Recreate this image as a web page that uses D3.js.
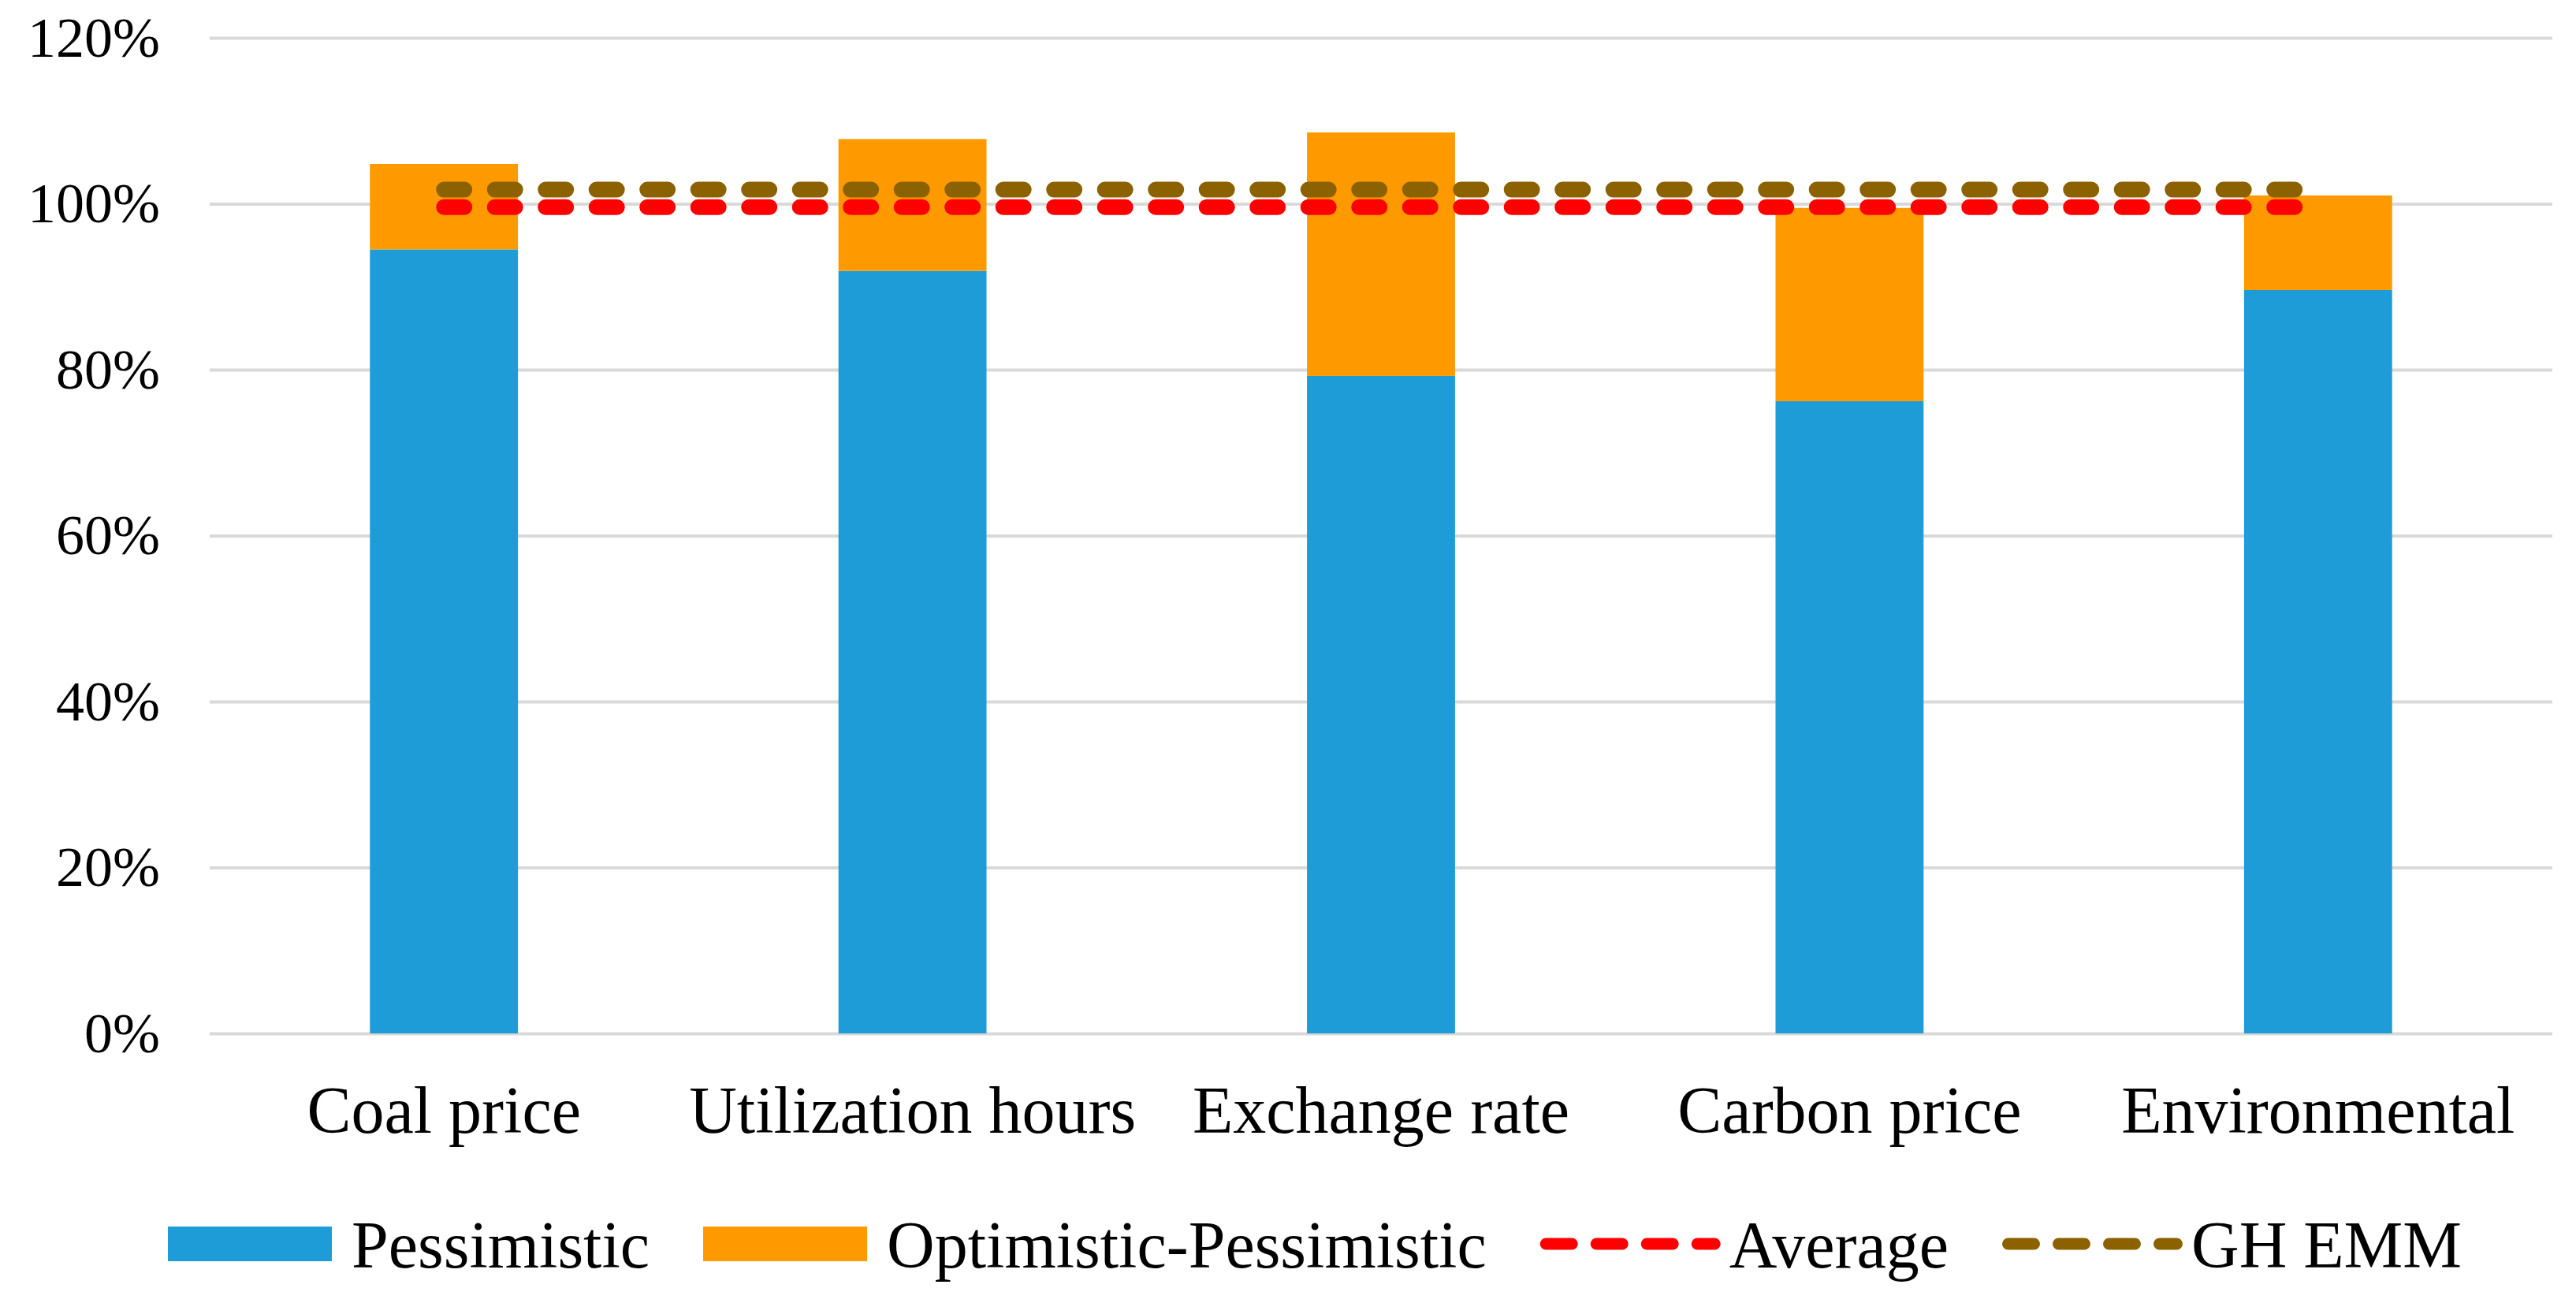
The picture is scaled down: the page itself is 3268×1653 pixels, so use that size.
<!DOCTYPE html>
<html>
<head>
<meta charset="utf-8">
<script src="https://cdn.jsdelivr.net/npm/d3@7"></script>
<style>
	body { margin: 0; background: #fff; }
	text { font-family: "Liberation Serif", "Times New Roman", serif; fill: #000; }
</style>
</head>
<body>
<svg id="chart" width="3268" height="1653"></svg>
<script>
// values
const categories = ["Coal price", "Utilization hours", "Exchange rate", "Carbon price", "Environmental"];
const pessimistic = [0.945, 0.919, 0.7925, 0.762, 0.896];
const optimisticMinusPessimistic = [0.103, 0.159, 0.2935, 0.233, 0.114];
const average = [0.996, 0.996, 0.996, 0.996, 0.996];
const ghEmm = [1.017, 1.017, 1.017, 1.017, 1.017];
const yTicks = [0, 0.2, 0.4, 0.6, 0.8, 1.0, 1.2];

const colors = {
	pess: "#1E9CD8",
	opt: "#FE9900",
	avg: "#FF0000",
	gh: "#8C6200",
	grid: "#D9D9D9",
};

const svg = d3.select("#chart");
const margin = { left: 266, right: 30, top: 48, bottom: 342 };
const W = +svg.attr("width");
const H = +svg.attr("height");
const plotW = W - margin.left - margin.right;
const plotH = H - margin.top - margin.bottom;

const g = svg.append("g").attr("transform", `translate(${margin.left},${margin.top})`);

const x = d3.scaleBand().domain(categories).range([0, plotW]).padding(0);
const y = d3.scaleLinear().domain([0, 1.2]).range([plotH, 0]);
const barW = x.step() * 0.316;

// gridlines + y labels
const yAxis = d3.axisLeft(y)
	.tickValues(yTicks)
	.tickFormat(d3.format(".0%"))
	.tickSize(-plotW)
	.tickPadding(63);
const gy = g.append("g").call(yAxis);
gy.select(".domain").remove();
gy.selectAll(".tick line").attr("stroke", colors.grid).attr("stroke-width", 4);
gy.selectAll(".tick text")
	.attr("font-size", 72)
	.attr("dy", 23)
	.attr("font-family", "Liberation Serif");

// stacked bars
const stackData = categories.map((c, i) => ({ cat: c, pess: pessimistic[i], opt: optimisticMinusPessimistic[i] }));
const series = d3.stack().keys(["pess", "opt"])(stackData);

g.append("g").selectAll("g")
	.data(series)
	.join("g")
	.attr("fill", d => colors[d.key])
	.selectAll("rect")
	.data(d => d)
	.join("rect")
	.attr("x", d => x(d.data.cat) + (x.step() - barW) / 2)
	.attr("width", barW)
	.attr("y", d => y(d[1]))
	.attr("height", d => y(d[0]) - y(d[1]));

// dashed lines
const line = d3.line()
	.x((d, i) => x(categories[i]) + x.step() / 2)
	.y(d => y(d));

[[average, colors.avg], [ghEmm, colors.gh]].forEach(([vals, col]) => {
	g.append("path")
		.datum(vals)
		.attr("d", line)
		.attr("fill", "none")
		.attr("stroke", col)
		.attr("stroke-width", 20)
		.attr("stroke-linecap", "round")
		.attr("stroke-dasharray", "26 38.5");
});

// x labels
const xAxis = d3.axisBottom(x).tickSize(0).tickPadding(0);
const gx = g.append("g").attr("transform", `translate(0,${plotH})`).call(xAxis);
gx.select(".domain").remove();
gx.selectAll(".tick text")
	.attr("font-size", 84)
	.attr("font-family", "Liberation Serif")
	.attr("y", 126)
	.attr("dy", 0);

// legend
const legendItems = [
	{ label: "Pessimistic", type: "rect", color: colors.pess },
	{ label: "Optimistic-Pessimistic", type: "rect", color: colors.opt },
	{ label: "Average", type: "line", color: colors.avg },
	{ label: "GH EMM", type: "line", color: colors.gh },
];
const legend = svg.append("g");
const legendMid = 1578;
let lx = 213;
legendItems.forEach(item => {
	let keyW, gap;
	if (item.type === "rect") {
		keyW = 208; gap = 25;
		legend.append("rect")
			.attr("x", lx).attr("y", legendMid - 22)
			.attr("width", keyW).attr("height", 44)
			.attr("fill", item.color);
	} else {
		keyW = 229; gap = 11;
		legend.append("line")
			.attr("x1", lx + 7.5).attr("x2", lx + keyW - 7.5)
			.attr("y1", legendMid).attr("y2", legendMid)
			.attr("stroke", item.color)
			.attr("stroke-width", 15)
			.attr("stroke-linecap", "round")
			.attr("stroke-dasharray", "33 31");
	}
	const t = legend.append("text")
		.attr("x", lx + keyW + gap)
		.attr("y", 1608)
		.attr("font-size", 84)
		.text(item.label);
	lx = lx + keyW + gap + t.node().getComputedTextLength() + 68;
});
</script>
</body>
</html>
